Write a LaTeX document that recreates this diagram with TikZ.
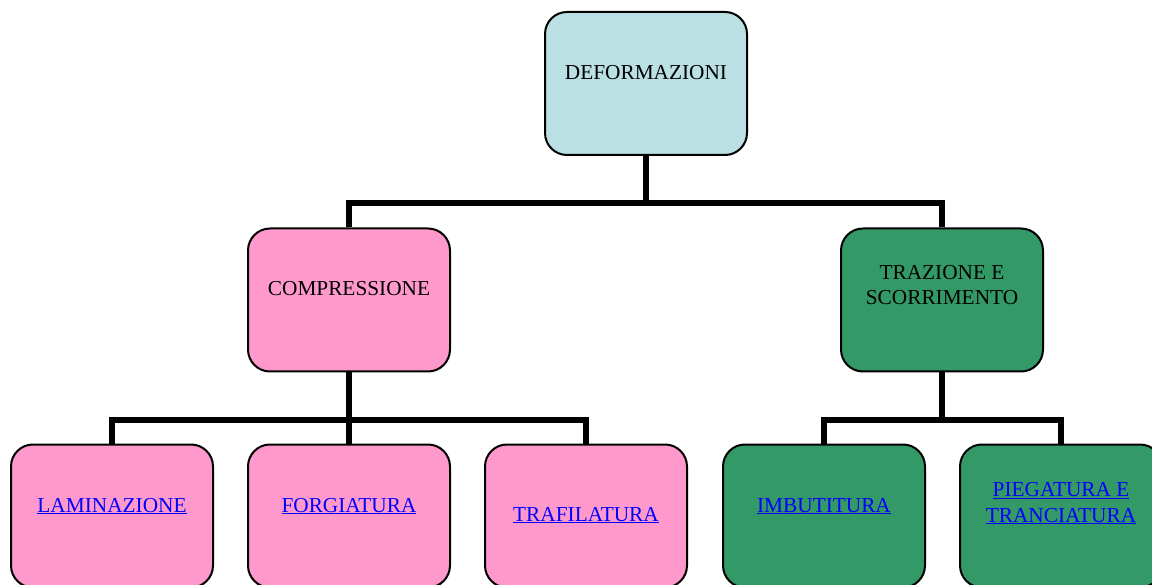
\documentclass[tikz,border=0pt]{standalone}
\usepackage{fontspec}
\setmainfont{Liberation Serif}
\definecolor{boxblue}{HTML}{BBE0E3}
\definecolor{boxpink}{HTML}{FF99CC}
\definecolor{boxgreen}{HTML}{339966}
\definecolor{linkblue}{HTML}{0000FF}
\tikzset{
  box/.style={draw=black, line width=2pt, rounded corners=22pt, minimum width=202pt, minimum height=143pt, inner sep=0pt},
  bluebox/.style={box, fill=boxblue},
  pinkbox/.style={box, fill=boxpink},
  greenbox/.style={box, fill=boxgreen},
  lbl/.style={font=\fontsize{21.3}{25.5}\selectfont, text=black, inner sep=0pt, anchor=base, align=center},
  link/.style={lbl, text=linkblue},
  conn/.style={line width=5.5pt, draw=black}
}
\newcommand{\lnk}[1]{\underline{#1}}
\begin{document}
\begin{tikzpicture}[x=1pt, y=-1pt]
\useasboundingbox (0,0) rectangle (1152,585);
% boxes
\node[bluebox]  (deform) at (646,83.5) {};
\node[pinkbox]  (compr)  at (349,300) {};
\node[greenbox] (traz)   at (942,300) {};
\node[pinkbox]  (lamin)  at (112,516) {};
\node[pinkbox]  (forg)   at (349,516) {};
\node[pinkbox]  (trafil) at (586,516) {};
\node[greenbox] (imbut)  at (824,516) {};
\node[greenbox] (pieg)   at (1061,516) {};
% junctions
\coordinate (j1) at (646,203);
\coordinate (j2) at (349,420);
\coordinate (j3) at (942,420);
% connectors
\draw[conn] (deform.south) -- (j1);
\draw[conn] (compr.north) |- (j1) -| (traz.north);
\draw[conn] (compr.south) -- (j2);
\draw[conn] (lamin.north) |- (j2) -| (trafil.north);
\draw[conn] (forg.north) -- (j2);
\draw[conn] (traz.south) -- (j3);
\draw[conn] (imbut.north) |- (j3) -| (pieg.north);
% labels
\node[lbl] (tdeform) at (646,80) {DEFORMAZIONI};
\node[lbl] (tcompr) at (349,296) {COMPRESSIONE};
\node[lbl] (ttraz) at (942,305) {TRAZIONE E\\SCORRIMENTO};
\node[link] (tlamin) at (112,512) {\lnk{LAMINAZIONE}};
\node[link] (tforg) at (349,512) {\lnk{FORGIATURA}};
\node[link] (ttrafil) at (586,521) {\lnk{TRAFILATURA}};
\node[link] (timbut) at (824,512) {\lnk{IMBUTITURA}};
\node[link] (tpieg) at (1061,522) {\lnk{PIEGATURA E}\\\lnk{TRANCIATURA}};
\end{tikzpicture}
\end{document}
